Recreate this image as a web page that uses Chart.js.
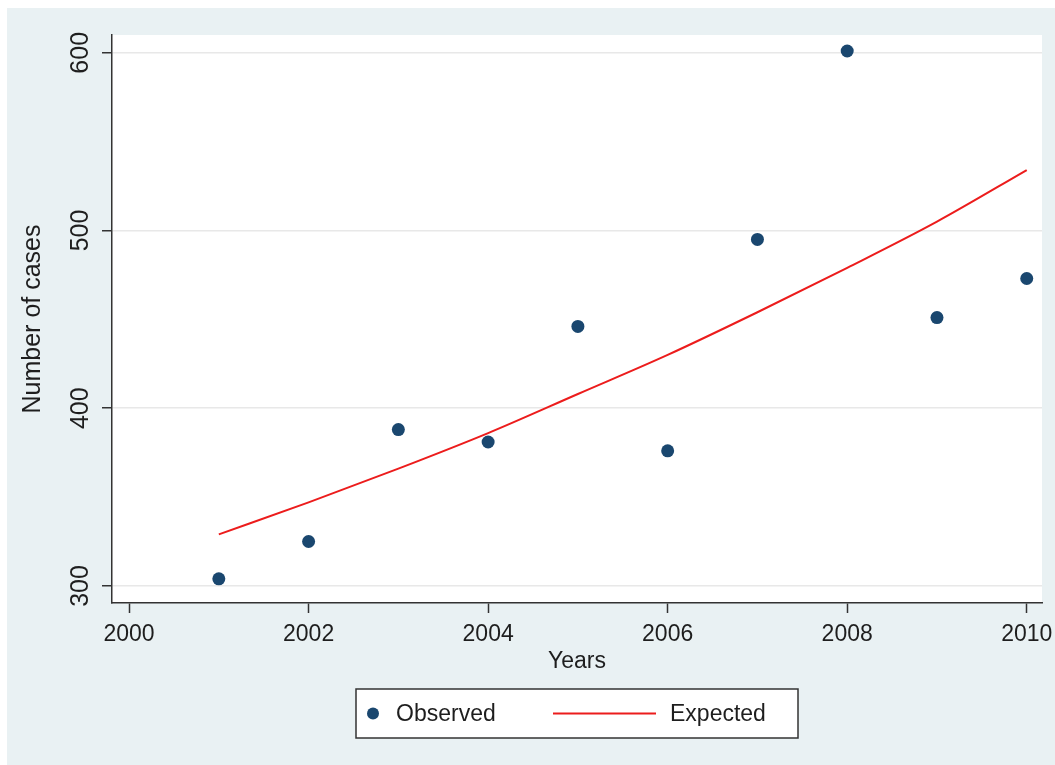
<!DOCTYPE html>
<html>
<head>
<meta charset="utf-8">
<title>Observed and expected number of cases</title>
<script src="https://cdn.jsdelivr.net/npm/chart.js@4.4.1/dist/chart.umd.min.js"></script>
<style>
  html, body { margin: 0; padding: 0; background: #fff; }
  #wrap { width: 1055px; height: 765px; }
</style>
</head>
<body>
<div id="wrap"><canvas id="myChart" width="1055" height="765"></canvas></div>
<script>
// values
const years = [2001, 2002, 2003, 2004, 2005, 2006, 2007, 2008, 2009, 2010];
const observed = [304, 325, 388, 381, 446, 376, 495, 601, 451, 473];
const expected = [329, 347, 366, 386, 408, 430, 454, 479, 505, 534];
const xTicks = [2000, 2002, 2004, 2006, 2008, 2010];
const yTicks = [300, 400, 500, 600];

const navy = '#1a476f';
const red = '#ec1c1c';
const textColor = '#1e1e1e';

Chart.defaults.font.family = '"Liberation Sans", Arial, sans-serif';
Chart.defaults.color = textColor;

// light bluish graph region + white plot region
const background = {
    id: 'background',
    beforeDraw(chart) {
        const ctx = chart.ctx;
        const a = chart.chartArea;
        ctx.save();
        ctx.fillStyle = '#e9f1f3';
        ctx.fillRect(7, 8, chart.width - 7, chart.height - 8);
        ctx.fillStyle = '#ffffff';
        ctx.fillRect(a.left, a.top, a.right - a.left, a.bottom - a.top);
        ctx.restore();
    }
};

// y tick labels rotated like Stata
const yLabels = {
    id: 'yLabels',
    afterDraw(chart) {
        const ctx = chart.ctx;
        const scale = chart.scales.y;
        ctx.save();
        ctx.font = '25px "Liberation Sans", Arial, sans-serif';
        ctx.fillStyle = textColor;
        ctx.textAlign = 'center';
        ctx.textBaseline = 'middle';
        yTicks.forEach(v => {
            ctx.save();
            ctx.translate(scale.right - 31, scale.getPixelForValue(v));
            ctx.rotate(-Math.PI / 2);
            ctx.fillText(String(v), 0, 0);
            ctx.restore();
        });
        ctx.restore();
    }
};

// boxed legend under the x title
const boxLegend = {
    id: 'boxLegend',
    afterDraw(chart) {
        const ctx = chart.ctx;
        const a = chart.chartArea;
        const w = 442, h = 49;
        const left = (a.left + a.right) / 2 - w / 2;
        const top = a.bottom + 86;
        const cy = top + h / 2;
        const ds = chart.data.datasets;
        ctx.save();
        ctx.fillStyle = '#ffffff';
        ctx.fillRect(left, top, w, h);
        ctx.strokeStyle = '#333333';
        ctx.lineWidth = 1.5;
        ctx.strokeRect(left, top, w, h);

        ctx.fillStyle = ds[0].backgroundColor;
        ctx.beginPath();
        ctx.arc(left + 17, cy, 6, 0, Math.PI * 2);
        ctx.fill();

        ctx.strokeStyle = ds[1].borderColor;
        ctx.lineWidth = 2;
        ctx.beginPath();
        ctx.moveTo(left + 197, cy);
        ctx.lineTo(left + 300, cy);
        ctx.stroke();

        ctx.font = '23px "Liberation Sans", Arial, sans-serif';
        ctx.fillStyle = textColor;
        ctx.textAlign = 'left';
        ctx.textBaseline = 'middle';
        ctx.fillText(ds[0].label, left + 40, cy + 1);
        ctx.fillText(ds[1].label, left + 314, cy + 1);
        ctx.restore();
    }
};

const ctx = document.getElementById('myChart').getContext('2d');
const myChart = new Chart(ctx, {
    type: 'scatter',
    data: {
        datasets: [{
            label: 'Observed',
            data: years.map((yr, i) => ({ x: yr, y: observed[i] })),
            backgroundColor: navy,
            borderColor: navy,
            pointRadius: 6.5,
            pointBorderWidth: 0,
            showLine: false,
            order: 1
        }, {
            label: 'Expected',
            data: years.map((yr, i) => ({ x: yr, y: expected[i] })),
            borderColor: red,
            backgroundColor: red,
            borderWidth: 2,
            pointRadius: 0,
            showLine: true,
            cubicInterpolationMode: 'monotone',
            order: 2
        }]
    },
    options: {
        responsive: false,
        animation: false,
        devicePixelRatio: 1,
        layout: { padding: { left: 0, top: 35, right: 13, bottom: 0 } },
        scales: {
            x: {
                type: 'linear',
                min: 1999.81,
                max: 2010.17,
                afterBuildTicks: s => { s.ticks = xTicks.map(v => ({ value: v })); },
                afterFit: s => {
                    s.height = 162;
                    s.paddingLeft = 0;
                    s.paddingRight = 0;
                },
                ticks: {
                    font: { size: 23 },
                    color: textColor,
                    padding: 8,
                    maxRotation: 0,
                    callback: v => String(v)
                },
                grid: {
                    drawOnChartArea: false,
                    drawTicks: true,
                    tickLength: 10,
                    tickColor: '#333333',
                    tickWidth: 1.5
                },
                border: { display: true, color: '#333333', width: 1.5 },
                title: {
                    display: true,
                    text: 'Years',
                    font: { size: 23 },
                    color: textColor,
                    padding: { top: 0, bottom: 90 }
                }
            },
            y: {
                min: 290.4,
                max: 610,
                afterBuildTicks: s => { s.ticks = yTicks.map(v => ({ value: v })); },
                afterFit: s => { s.width = 112; },
                ticks: { display: false },
                grid: {
                    color: '#e8e8e8',
                    lineWidth: 1.5,
                    drawTicks: true,
                    tickLength: 10,
                    tickColor: '#333333',
                    tickWidth: 1.5
                },
                border: { display: true, color: '#333333', width: 1.5 },
                title: {
                    display: true,
                    text: 'Number of cases',
                    font: { size: 25 },
                    color: textColor,
                    padding: { top: 18, bottom: 0 }
                }
            }
        },
        plugins: {
            legend: { display: false },
            tooltip: { enabled: false }
        }
    },
    plugins: [background, yLabels, boxLegend]
});
</script>
</body>
</html>
